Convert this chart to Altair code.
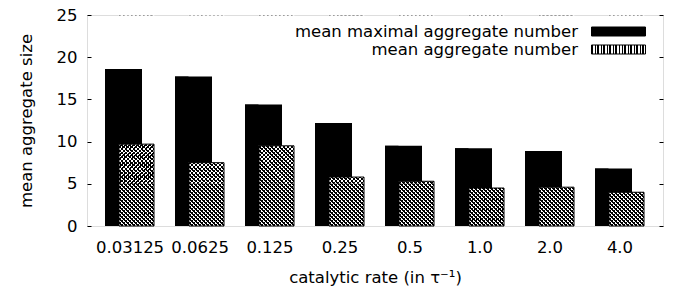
import altair as alt
import pandas as pd

rates = ["0.03125", "0.0625", "0.125", "0.25", "0.5", "1.0", "2.0", "4.0"]
max_agg = [18.6, 17.7, 14.4, 12.2, 9.5, 9.2, 8.9, 6.8]
mean_agg = [9.7, 7.5, 9.5, 5.8, 5.3, 4.5, 4.6, 4.0]
series = ["mean maximal aggregate number", "mean aggregate number"]
y_ticks = [0, 5, 10, 15, 20, 25]
y_max = 25

df = pd.DataFrame({"rate": rates, "maxagg": max_agg, "meanagg": mean_agg})

PLOT_W, PLOT_H = 576, 211
BLACK_W, HATCH_W, OFF = 37, 35, 6.5
FONT = "DejaVu Sans"
FS = 16.5
PERIOD = 4.0
FRAC = 0.36
# hatch fill stops just below the top frame line
fill_top = y_max * (1 - 0.6 / PLOT_H)


def px(v):
    return (y_max - v) / y_max * PLOT_H


def stripe_stops(n, frac, on, off):
    stops = []
    for k in range(n):
        a = k / n
        b = (k + frac) / n
        c = (k + 1) / n
        stops += [
            {"offset": a, "color": on},
            {"offset": b, "color": on},
            {"offset": b, "color": off},
            {"offset": c, "color": off},
        ]
    return stops


def diag_gradient(W, H, phase, down, on, off):
    # stripes along s = X + Y (down=True) or s = X + (H - Y), period PERIOD,
    # shifted by phase px so the pattern continues across segments
    n = int((W + H + phase) // PERIOD) + 1
    L = n * PERIOD
    a = L * W / (W * W + H * H)
    x1 = -phase / W
    if down:
        y1, y2 = 0, a * H / W
    else:
        y1, y2 = 1, 1 - a * H / W
    return {"gradient": "linear", "x1": x1, "y1": y1, "x2": x1 + a, "y2": y2,
            "stops": stripe_stops(n, FRAC, on, off)}


# legend swatch pattern (54 x 9 box)
sw_stops = stripe_stops(18, 0.45, "black", "white")
sw_expr = ("{gradient:'linear',x1:0,y1:0,x2:1,y2:0,stops:["
           + ",".join("{offset:%.5f,color:'%s'}" % (s["offset"], s["color"])
                      for s in sw_stops)
           + "]}")

PAD_OUT = 8 / 70
x_enc = alt.X("rate:N", sort=rates,
              scale=alt.Scale(paddingInner=0, paddingOuter=PAD_OUT),
              axis=alt.Axis(labelAngle=0, ticks=False, tickSize=0, domain=False,
                            grid=False,
                            labelPadding=13, labelFontSize=FS, labelFont=FONT,
                            labelColor="black",
                            title="catalytic rate (in τ⁻¹)", titleFontSize=FS,
                            titleFont=FONT, titleFontWeight="normal",
                            titleColor="black", titlePadding=14))
y_scale = alt.Scale(domain=[0, y_max], nice=False)

base = alt.Chart(df).transform_calculate(top=str(fill_top))

# 0. black bars (with legend)
black_full = base.transform_calculate(
    series="'" + series[0] + "'"
).mark_bar(xOffset=-OFF, size=BLACK_W).encode(
    x=x_enc,
    y=alt.Y("maxagg:Q", scale=y_scale,
            axis=alt.Axis(values=y_ticks, tickSize=4, offset=-4, domain=False,
                          grid=False,
                          tickColor="black", labelPadding=10, labelFontSize=FS,
                          labelFont=FONT, labelColor="black",
                          title="mean aggregate size", titleFontSize=FS,
                          titleFont=FONT, titleFontWeight="normal",
                          titleColor="black", titlePadding=22)),
    fill=alt.Fill("series:N",
                  scale=alt.Scale(domain=series,
                                  range=["black", {"expr": sw_expr}]),
                  legend=alt.Legend(title=None, orient="none", legendX=522,
                                    legendY=7, padding=0,
                                    symbolType="M-3,-0.5H3V0.5H-3Z",
                                    symbolSize=324, symbolStrokeColor="black",
                                    symbolStrokeWidth=1, labelAlign="right",
                                    labelOffset={"expr": "-50"}, labelFont=FONT,
                                    labelFontSize=FS, labelColor="black",
                                    labelLimit=500, rowPadding=0)),
)

# 1,2. crosshatch, drawn in horizontal segments (between y ticks)
hatch_layers = []
for j in range(len(y_ticks) - 1):
    lo = y_ticks[j]
    hi = y_ticks[j + 1] if j + 1 < len(y_ticks) - 1 else fill_top
    top_px, bot_px = px(hi), px(lo)
    Hs = bot_px - top_px
    ph1 = top_px % PERIOD
    ph2 = (-(Hs + top_px)) % PERIOD
    seg = base.transform_calculate(lo=str(lo), hi=str(hi))
    for grad in (diag_gradient(HATCH_W, Hs, ph1, True, "black", "white"),
                 diag_gradient(HATCH_W, Hs, ph2, False, "black",
                               "rgba(0,0,0,0)")):
        hatch_layers.append(
            seg.mark_bar(xOffset=OFF, size=HATCH_W, fill=grad).encode(
                x=x_enc, y=alt.Y("hi:Q", scale=y_scale, axis=None), y2="lo:Q"))

# 3. white cover above the mean aggregate value
cover = base.mark_bar(xOffset=OFF, size=HATCH_W + 1, fill="white").encode(
    x=x_enc, y=alt.Y("meanagg:Q", scale=y_scale, axis=None), y2="top:Q")

# 4. black bar part above the hatched bar
black_top = base.mark_bar(xOffset=-OFF, size=BLACK_W, fill="black").encode(
    x=x_enc, y=alt.Y("meanagg:Q", scale=y_scale, axis=None), y2="maxagg:Q")

# 5. outline of hatched bars
outline = base.mark_bar(xOffset=OFF, size=HATCH_W, fill="transparent",
                        stroke="black", strokeWidth=1).encode(
    x=x_enc, y=alt.Y("meanagg:Q", scale=y_scale, axis=None))

# right-side inward ticks
right_ticks = base.mark_bar(opacity=0).encode(
    x=x_enc,
    y=alt.Y("meanagg:Q", scale=y_scale,
            axis=alt.Axis(orient="right", values=y_ticks, tickSize=4, offset=-4,
                          domain=False, grid=False, labels=False,
                          tickColor="black", title=None)))

chart = alt.layer(black_full, *hatch_layers, cover, black_top, outline,
                  right_ticks).resolve_axis(y="independent").properties(
    width=PLOT_W, height=PLOT_H,
    autosize=alt.AutoSizeParams(type="none"),
    padding={"left": 79, "top": 7, "right": 4, "bottom": 66},
).configure_view(stroke="black", strokeWidth=1).configure(background="white")

chart.save("out.html", embed_options={"renderer": "svg", "actions": False})
